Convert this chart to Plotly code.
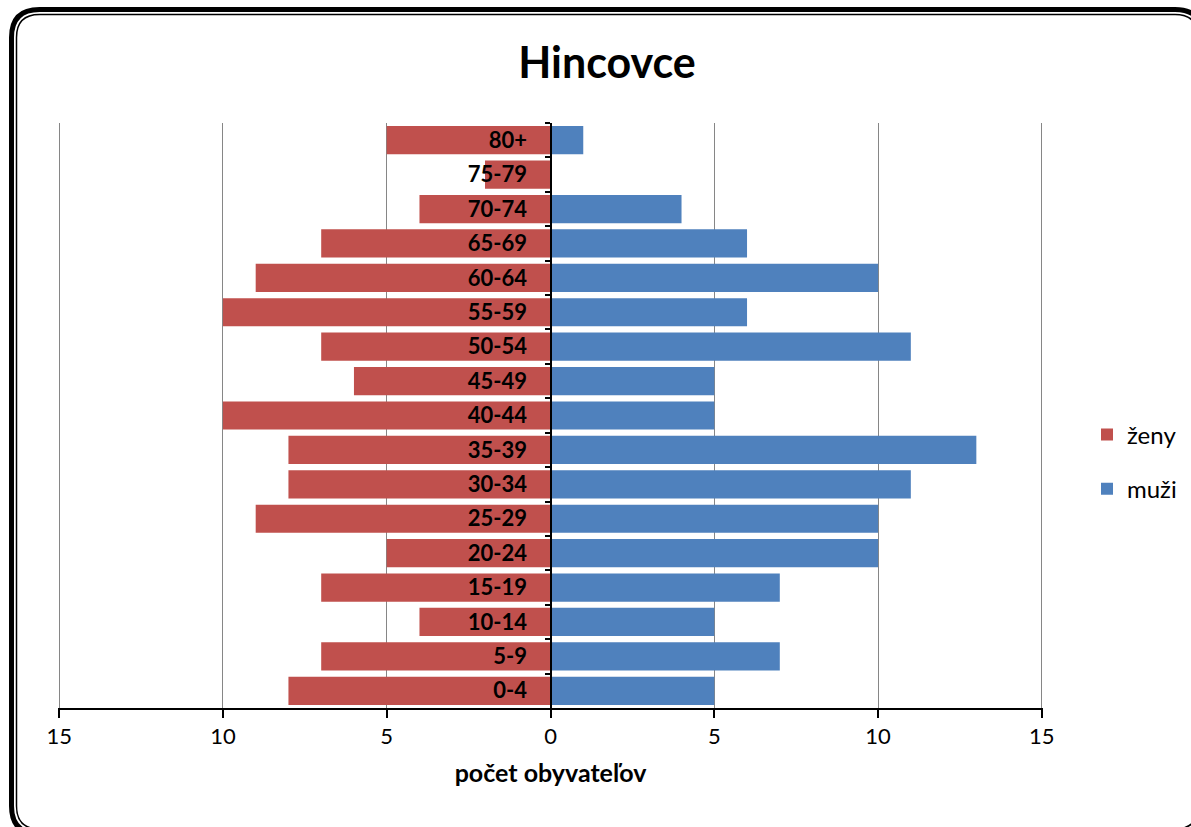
import plotly.graph_objects as go

categories = ["80+", "75-79", "70-74", "65-69", "60-64", "55-59", "50-54", "45-49",
              "40-44", "35-39", "30-34", "25-29", "20-24", "15-19", "10-14", "5-9", "0-4"]
zeny = [5, 2, 4, 7, 9, 10, 7, 6, 10, 8, 8, 9, 5, 7, 4, 7, 8]
muzi = [1, 0, 4, 6, 10, 6, 11, 5, 5, 13, 11, 10, 10, 7, 5, 7, 5]
tick_vals = [-15, -10, -5, 0, 5, 10, 15]
tick_text = ["15", "10", "5", "0", "5", "10", "15"]

W, H = 1191, 827
L, R, T, B = 58, 148, 123, 119
PW, PH = W - L - R, H - T - B
FONT = "Lato"

def px(x):
    return (x - L) / PW

def py(y):
    return (H - B - y) / PH

def rrect(x0, y0, x1, y1, r):
    pts = []
    pts.append(f"M {px(x0 + r)} {py(y0)}")
    pts.append(f"L {px(x1 - r)} {py(y0)}")
    pts.append(f"Q {px(x1)} {py(y0)} {px(x1)} {py(y0 + r)}")
    pts.append(f"L {px(x1)} {py(y1 - r)}")
    pts.append(f"Q {px(x1)} {py(y1)} {px(x1 - r)} {py(y1)}")
    pts.append(f"L {px(x0 + r)} {py(y1)}")
    pts.append(f"Q {px(x0)} {py(y1)} {px(x0)} {py(y1 - r)}")
    pts.append(f"L {px(x0)} {py(y0 + r)}")
    pts.append(f"Q {px(x0)} {py(y0)} {px(x0 + r)} {py(y0)}")
    pts.append("Z")
    return " ".join(pts)

fig = go.Figure()
fig.add_trace(go.Bar(y=categories, x=[-v for v in zeny], orientation="h", name="ženy",
                     marker=dict(color="#C0504D", line=dict(width=0)),
                     legendgroup="z", hoverinfo="skip"))
fig.add_trace(go.Bar(y=categories, x=muzi, orientation="h", name="muži",
                     marker=dict(color="#4F81BD", line=dict(width=0)),
                     legendgroup="m", hoverinfo="skip"))

fig.update_layout(
    width=W, height=H,
    margin=dict(l=L, r=R, t=T, b=B, autoexpand=False),
    paper_bgcolor="white", plot_bgcolor="white",
    barmode="relative", bargap=0.18,
    font=dict(family=FONT, color="black", size=20),
    title=dict(text="<b>Hincovce</b>", x=px(607), xref="paper", xanchor="center",
               y=1 - 63 / H, yanchor="middle", font=dict(size=43, family=FONT, color="black")),
    xaxis=dict(range=[-15.035, 15.035], tickvals=tick_vals, ticktext=tick_text,
               showgrid=True, gridcolor="#868686", gridwidth=1,
               zeroline=False, showline=True, linecolor="black", linewidth=2,
               ticks="outside", ticklen=8, tickwidth=2, tickcolor="black",
               tickfont=dict(size=22, family=FONT, color="black"),
               title=dict(text="<b>počet obyvateľov</b>", standoff=16,
                          font=dict(size=25, family=FONT, color="black"))),
    yaxis=dict(type="category", autorange="reversed", anchor="free", position=0.5,
               showline=True, linecolor="black", linewidth=2, showgrid=False,
               ticks="outside", tickson="boundaries", ticklen=5, tickwidth=2, tickcolor="black",
               ticklabelstandoff=18,
               tickfont=dict(size=22, family=FONT, color="black", weight="bold"),
               layer="above traces"),
    legend=dict(x=px(1087), y=py(462), xanchor="left", yanchor="middle",
                traceorder="grouped", tracegroupgap=20, itemwidth=30,
                font=dict(size=24, family=FONT, color="black"), bgcolor="rgba(0,0,0,0)"),
    shapes=[
        dict(type="path", xref="paper", yref="paper", path=rrect(11.5, 9.5, 1203, 834, 28),
             line=dict(color="black", width=5), layer="above"),
        dict(type="path", xref="paper", yref="paper", path=rrect(16.5, 14.5, 1198, 829, 23),
             line=dict(color="black", width=1.5), layer="above"),
    ],
)

fig.write_html("out.html", config={"displayModeBar": False},
               post_script="document.body.style.margin='0';document.body.style.overflow='hidden';")
